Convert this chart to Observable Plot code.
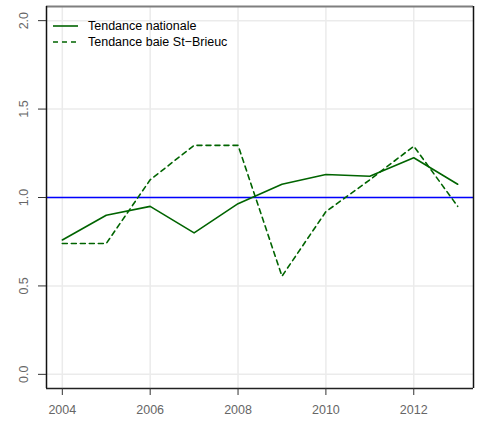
<!DOCTYPE html>
<html>
<head>
<meta charset="utf-8">
<script src="https://cdn.jsdelivr.net/npm/d3@7"></script>
<script src="https://cdn.jsdelivr.net/npm/@observablehq/plot@0.6"></script>
<style>
  html, body { margin: 0; padding: 0; background: #fff; }
  #chart svg { display: block; font-family: "Liberation Sans", Arial, sans-serif; }
</style>
</head>
<body>
<div id="chart"></div>
<script>
const years = [2004, 2005, 2006, 2007, 2008, 2009, 2010, 2011, 2012, 2013];
const nationale = [0.76, 0.90, 0.95, 0.80, 0.965, 1.075, 1.13, 1.12, 1.225, 1.075];
const baie = [0.74, 0.74, 1.10, 1.295, 1.295, 0.555, 0.92, 1.10, 1.29, 0.95];
const xTicks = [2004, 2006, 2008, 2010, 2012];
const yTicks = [0, 0.5, 1.0, 1.5, 2.0];
const seriesNames = ["Tendance nationale", "Tendance baie St\u2212Brieuc"];
const refLevel = [1];

const nat = years.map((y, i) => ({year: y, value: nationale[i]}));
const bai = years.map((y, i) => ({year: y, value: baie[i]}));

// R-style 4% axis extension
const xr = [d3.min(years), d3.max(years)];
const xPad = (xr[1] - xr[0]) * 0.04;
const xDomain = [xr[0] - xPad, xr[1] + xPad];
const yr = [d3.min(yTicks), d3.max(yTicks)];
const yPad = (yr[1] - yr[0]) * 0.04;
const yDomain = [yr[0] - yPad, yr[1] + yPad];

const green = "#006400";
const tickColor = "#666";

const chart = Plot.plot({
  width: 480,
  height: 421,
  marginLeft: 46,
  marginRight: 7,
  marginTop: 6,
  marginBottom: 33,
  style: {fontFamily: "Liberation Sans, Arial, sans-serif", fontSize: "12px", background: "white"},
  x: {domain: xDomain},
  y: {domain: yDomain},
  marks: [
    Plot.gridX(xTicks, {stroke: "#EBEBEB", strokeOpacity: 1, strokeWidth: 1.5}),
    Plot.gridY(yTicks, {stroke: "#EBEBEB", strokeOpacity: 1, strokeWidth: 1.5}),
    Plot.ruleY(refLevel, {y: d => d, stroke: () => "blue", strokeWidth: 1.3}),
    Plot.line(nat, {x: "year", y: "value", stroke: green, strokeWidth: 1.6}),
    Plot.line(bai, {x: "year", y: "value", stroke: green, strokeWidth: 1.6, strokeDasharray: "5,4"}),
    // box: gray top, black others
    Plot.ruleY([yDomain[1]], {stroke: "#7f7f7f", strokeWidth: 2}),
    Plot.ruleY([yDomain[0]], {stroke: "#222", strokeWidth: 1.5}),
    Plot.ruleX([xDomain[0]], {stroke: "#111", strokeWidth: 1.5}),
    Plot.ruleX([xDomain[1]], {stroke: "#111", strokeWidth: 1.5}),
    Plot.axisX(xTicks, {tickSize: 7, tickPadding: 10, tickFormat: d => String(d), color: tickColor, stroke: "#333", fontSize: 12.5, label: null}),
    Plot.axisY(yTicks, {tickSize: 8, text: null, stroke: "#333", label: null}),
    Plot.text(yTicks, {y: d => d, text: d => d.toFixed(1), frameAnchor: "left", dx: -23, rotate: -90, textAnchor: "middle", fill: tickColor, fontSize: 12.5})
  ]
});

document.getElementById("chart").appendChild(chart);

// legend (inside plot area, top-left)
const svg = d3.select(chart);
const lg = svg.append("g")
  .attr("font-family", "Liberation Sans, Arial, sans-serif")
  .attr("font-size", 12.5)
  .attr("text-anchor", "start");
const rows = [{name: seriesNames[0], dash: null, y: 26}, {name: seriesNames[1], dash: "5,4", y: 42}];
rows.forEach(r => {
  lg.append("line").attr("x1", 53).attr("x2", 78).attr("y1", r.y).attr("y2", r.y)
    .attr("stroke", green).attr("stroke-width", 1.6).attr("stroke-dasharray", r.dash);
  lg.append("text").attr("x", 88).attr("y", r.y).attr("dy", "0.35em").attr("fill", "#000").text(r.name);
});
</script>
</body>
</html>
